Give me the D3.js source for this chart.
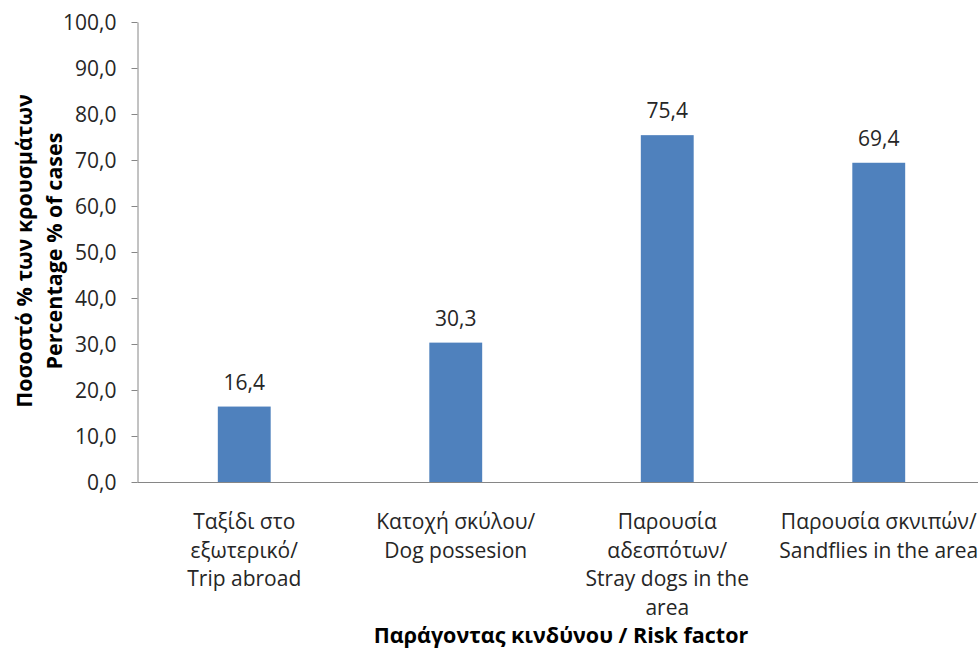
<!DOCTYPE html>
<html>
<head>
<meta charset="utf-8">
<script src="https://cdn.jsdelivr.net/npm/d3@7"></script>
<style>
  html, body { margin: 0; padding: 0; background: #fff; }
  svg { display: block; }
  text { font-family: "Open Sans", "Noto Sans", sans-serif; fill: #262626; }
</style>
</head>
<body>
<svg id="chart" width="978" height="650"></svg>
<script>
// Risk factors (Greek / English) and the share of cases for each
const categories = [
  ["Ταξίδι στο", "εξωτερικό/", "Trip abroad"],
  ["Κατοχή σκύλου/", "Dog possesion"],
  ["Παρουσία", "αδεσπότων/", "Stray dogs in the", "area"],
  ["Παρουσία σκνιπών/", "Sandflies in the area"]
];
const values = [16.4, 30.3, 75.4, 69.4];
const yTicks = [0, 10, 20, 30, 40, 50, 60, 70, 80, 90, 100];
const yTitle = ["Ποσοστό % των κρουσμάτων", "Percentage % of cases"];
const xTitle = "Παράγοντας κινδύνου / Risk factor";

const svg = d3.select("#chart");
const fmt = v => v.toFixed(1).replace(".", ",");

const x = d3.scaleBand()
  .domain(d3.range(values.length))
  .range([138.5, 984.5])
  .paddingInner(0.75)
  .paddingOuter(0.375);

const y = d3.scaleLinear().domain([0, 100]).range([482, 22]);

// y axis
const yAxis = svg.append("g")
  .attr("transform", "translate(137.5,0)")
  .call(d3.axisLeft(y).tickValues(yTicks).tickFormat(fmt).tickSize(6).tickSizeOuter(0));
yAxis.select(".domain").attr("stroke", "#868686");
yAxis.selectAll(".tick line").attr("stroke", "#868686");
yAxis.selectAll(".tick text")
  .attr("x", -21)
  .attr("dy", "0.36em")
  .style("font-size", "21px")
  .style("fill", "#262626");

// bars
svg.append("g").selectAll("rect")
  .data(values)
  .join("rect")
  .attr("x", (d, i) => x(i))
  .attr("width", x.bandwidth())
  .attr("y", d => y(d))
  .attr("height", d => y(0) - y(d))
  .attr("fill", "#4F81BD");

// x axis line
svg.append("line")
  .attr("x1", 137.5).attr("x2", 978)
  .attr("y1", 482.5).attr("y2", 482.5)
  .attr("stroke", "#868686");

// value labels
svg.append("g").selectAll("text")
  .data(values)
  .join("text")
  .attr("x", (d, i) => x(i) + x.bandwidth() / 2)
  .attr("y", d => y(d) - 17)
  .attr("text-anchor", "middle")
  .style("font-size", "21px")
  .text(fmt);

// category labels
const cat = svg.append("g").selectAll("text")
  .data(categories)
  .join("text")
  .attr("x", (d, i) => x(i) + x.bandwidth() / 2)
  .attr("y", 529)
  .attr("text-anchor", "middle")
  .style("font-size", "21px");
cat.selectAll("tspan")
  .data(d => d)
  .join("tspan")
  .attr("x", function () { return this.parentNode.getAttribute("x"); })
  .attr("dy", (d, i) => i === 0 ? 0 : 28.5)
  .text(d => d);

// axis titles
svg.append("text")
  .attr("x", 561).attr("y", 643)
  .attr("text-anchor", "middle")
  .style("font-size", "21.5px")
  .style("font-weight", "bold")
  .style("fill", "#000")
  .text(xTitle);

svg.append("g")
  .attr("transform", "translate(32,251) rotate(-90)")
  .selectAll("text")
  .data(yTitle)
  .join("text")
  .attr("x", 0)
  .attr("y", (d, i) => i * 30)
  .attr("text-anchor", "middle")
  .style("font-size", "21.5px")
  .style("font-weight", "bold")
  .style("fill", "#000")
  .text(d => d);
</script>
</body>
</html>
